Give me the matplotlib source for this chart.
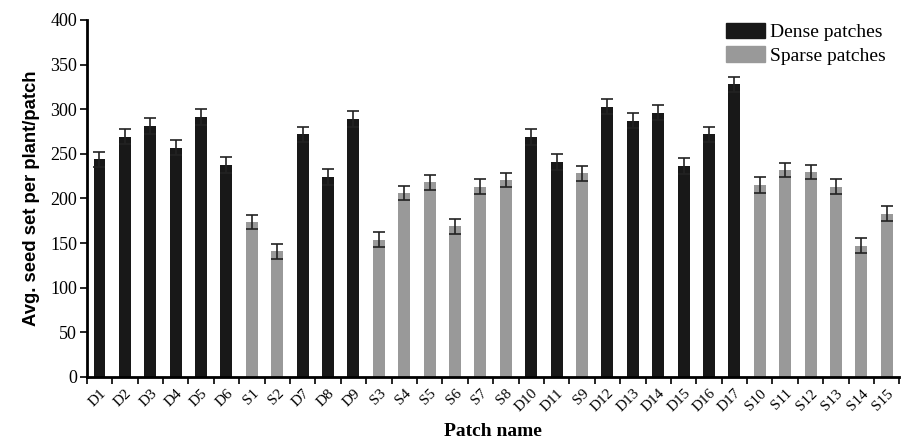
import numpy as np
import matplotlib.pyplot as plt
from matplotlib.patches import Patch

patches = ['D1', 'D2', 'D3', 'D4', 'D5', 'D6', 'S1', 'S2', 'D7', 'D8', 'D9',
           'S3', 'S4', 'S5', 'S6', 'S7', 'S8', 'D10', 'D11', 'S9', 'D12', 'D13',
           'D14', 'D15', 'D16', 'D17', 'S10', 'S11', 'S12', 'S13', 'S14', 'S15']
seed_set = [244, 269, 281, 257, 291, 237, 174, 141, 272, 224, 289,
            154, 206, 218, 169, 213, 221, 269, 241, 228, 303, 287,
            296, 236, 272, 328, 215, 232, 230, 213, 147, 183]
err = [8.5, 8.5, 9, 8.5, 9, 9, 8, 8.5, 8.5, 8.5, 8.5,
       8, 8, 8.5, 8.5, 8.5, 8, 9, 9, 8.5, 8.5, 8.5,
       8.5, 9, 8.5, 8.5, 8.5, 8, 8, 8.5, 8.5, 8.5]

dense_color = '#181818'
sparse_color = '#999999'
colors = [dense_color if p.startswith('D') else sparse_color for p in patches]

fig = plt.figure(figsize=(9.04, 4.43), dpi=100)
ax = fig.add_axes([0.096, 0.149, 0.899, 0.806])

x = np.arange(len(patches))
ax.bar(x, seed_set, width=0.47, color=colors, yerr=err,
       error_kw=dict(ecolor='#222222', elinewidth=1.2, capsize=4, capthick=1.2))

ax.set_xlim(-0.5, len(patches) - 0.5)
ax.set_ylim(0, 400)
ax.set_yticks(np.arange(0, 401, 50))
ax.set_yticklabels([str(v) for v in range(0, 401, 50)], family='Liberation Serif', fontsize=13)

ax.set_xticks(x)
ax.set_xticklabels(patches, rotation=45, ha='right', rotation_mode='anchor',
                   family='Liberation Serif', fontsize=11)
ax.tick_params(axis='x', which='major', length=0, pad=7)
ax.set_xticks(np.arange(-0.5, len(patches), 1), minor=True)
ax.tick_params(axis='x', which='minor', length=5, width=1.2, direction='out')
ax.tick_params(axis='y', length=5, width=1.2, direction='out', pad=2)

for s in ['top', 'right']:
    ax.spines[s].set_visible(False)
for s in ['left', 'bottom']:
    ax.spines[s].set_linewidth(2)

ax.set_ylabel('Avg. seed set per plant/patch', family='Liberation Sans',
              fontweight='bold', fontsize=13.3, labelpad=7)
ax.set_xlabel('Patch name', family='Liberation Serif', fontweight='bold',
              fontsize=14, labelpad=6)

handles = [Patch(color=dense_color, label='Dense patches'),
           Patch(color=sparse_color, label='Sparse patches')]
ax.legend(handles=handles, loc='upper right', bbox_to_anchor=(1.0, 1.03),
          frameon=False, prop={'family': 'Liberation Serif', 'size': 14},
          handlelength=2.0, handleheight=0.85, handletextpad=0.25, labelspacing=0.25,
          borderpad=0.2)

fig.savefig('out.png', dpi=100)
